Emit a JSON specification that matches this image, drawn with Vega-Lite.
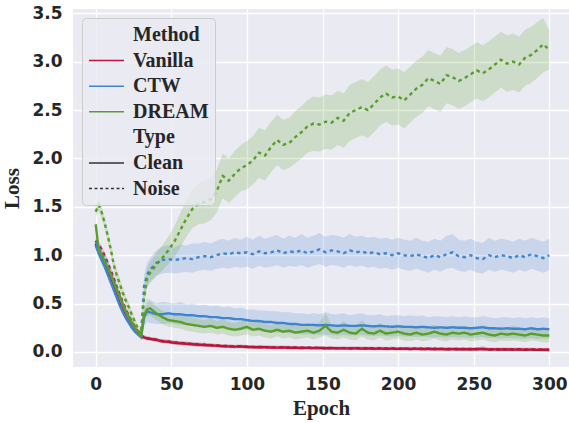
{
"$schema": "https://vega.github.io/schema/vega-lite/v6.json",
"width": 496, "height": 358,
"autosize": {"type": "none"},
"padding": {"left": 73, "top": 9, "right": 0, "bottom": 56},
"background": "white",
"config": {
  "view": {"fill": "#EAEAF2", "stroke": null},
  "axis": {"grid": true, "gridColor": "white", "gridWidth": 1.3, "domain": false, "ticks": false,
    "labelFont": "DejaVu Sans", "labelFontWeight": "bold", "labelFontSize": 17, "labelColor": "#262626",
    "titleFont": "Liberation Serif", "titleFontWeight": "bold", "titleFontSize": 21, "titleColor": "#262626"}
},
"data": {"values": [
{"m":"Vanilla","t":"Clean","e":0,"y":1.12,"lo":1.08,"hi":1.16},
{"m":"Vanilla","t":"Clean","e":2,"y":1.03,"lo":0.99,"hi":1.07},
{"m":"Vanilla","t":"Clean","e":4,"y":0.96,"lo":0.92,"hi":1.0},
{"m":"Vanilla","t":"Clean","e":6,"y":0.9,"lo":0.86,"hi":0.94},
{"m":"Vanilla","t":"Clean","e":8,"y":0.82,"lo":0.78,"hi":0.86},
{"m":"Vanilla","t":"Clean","e":10,"y":0.74,"lo":0.7,"hi":0.78},
{"m":"Vanilla","t":"Clean","e":12,"y":0.66,"lo":0.62,"hi":0.7},
{"m":"Vanilla","t":"Clean","e":14,"y":0.58,"lo":0.54,"hi":0.62},
{"m":"Vanilla","t":"Clean","e":16,"y":0.5,"lo":0.46,"hi":0.54},
{"m":"Vanilla","t":"Clean","e":18,"y":0.43,"lo":0.4,"hi":0.46},
{"m":"Vanilla","t":"Clean","e":20,"y":0.36,"lo":0.33,"hi":0.39},
{"m":"Vanilla","t":"Clean","e":22,"y":0.31,"lo":0.28,"hi":0.34},
{"m":"Vanilla","t":"Clean","e":24,"y":0.26,"lo":0.23,"hi":0.29},
{"m":"Vanilla","t":"Clean","e":26,"y":0.22,"lo":0.2,"hi":0.24},
{"m":"Vanilla","t":"Clean","e":28,"y":0.19,"lo":0.17,"hi":0.21},
{"m":"Vanilla","t":"Clean","e":30,"y":0.16,"lo":0.14,"hi":0.18},
{"m":"Vanilla","t":"Clean","e":32,"y":0.15,"lo":0.13,"hi":0.17},
{"m":"Vanilla","t":"Clean","e":34,"y":0.14,"lo":0.12,"hi":0.16},
{"m":"Vanilla","t":"Clean","e":36,"y":0.135,"lo":0.115,"hi":0.155},
{"m":"Vanilla","t":"Clean","e":40,"y":0.125,"lo":0.105,"hi":0.145},
{"m":"Vanilla","t":"Clean","e":44,"y":0.11,"lo":0.09,"hi":0.13},
{"m":"Vanilla","t":"Clean","e":48,"y":0.105,"lo":0.085,"hi":0.125},
{"m":"Vanilla","t":"Clean","e":52,"y":0.095,"lo":0.075,"hi":0.115},
{"m":"Vanilla","t":"Clean","e":56,"y":0.09,"lo":0.07,"hi":0.11},
{"m":"Vanilla","t":"Clean","e":60,"y":0.085,"lo":0.065,"hi":0.105},
{"m":"Vanilla","t":"Clean","e":64,"y":0.08,"lo":0.06,"hi":0.1},
{"m":"Vanilla","t":"Clean","e":68,"y":0.075,"lo":0.055,"hi":0.095},
{"m":"Vanilla","t":"Clean","e":72,"y":0.072,"lo":0.052,"hi":0.092},
{"m":"Vanilla","t":"Clean","e":76,"y":0.068,"lo":0.05,"hi":0.088},
{"m":"Vanilla","t":"Clean","e":80,"y":0.065,"lo":0.047,"hi":0.083},
{"m":"Vanilla","t":"Clean","e":84,"y":0.06,"lo":0.042,"hi":0.078},
{"m":"Vanilla","t":"Clean","e":88,"y":0.058,"lo":0.04,"hi":0.076},
{"m":"Vanilla","t":"Clean","e":92,"y":0.055,"lo":0.037,"hi":0.073},
{"m":"Vanilla","t":"Clean","e":96,"y":0.057,"lo":0.039,"hi":0.075},
{"m":"Vanilla","t":"Clean","e":100,"y":0.052,"lo":0.034,"hi":0.07},
{"m":"Vanilla","t":"Clean","e":104,"y":0.05,"lo":0.032,"hi":0.068},
{"m":"Vanilla","t":"Clean","e":108,"y":0.048,"lo":0.03,"hi":0.066},
{"m":"Vanilla","t":"Clean","e":112,"y":0.05,"lo":0.032,"hi":0.068},
{"m":"Vanilla","t":"Clean","e":116,"y":0.046,"lo":0.028,"hi":0.064},
{"m":"Vanilla","t":"Clean","e":120,"y":0.045,"lo":0.027,"hi":0.063},
{"m":"Vanilla","t":"Clean","e":124,"y":0.047,"lo":0.029,"hi":0.065},
{"m":"Vanilla","t":"Clean","e":128,"y":0.043,"lo":0.025,"hi":0.061},
{"m":"Vanilla","t":"Clean","e":132,"y":0.044,"lo":0.026,"hi":0.062},
{"m":"Vanilla","t":"Clean","e":136,"y":0.041,"lo":0.023,"hi":0.059},
{"m":"Vanilla","t":"Clean","e":140,"y":0.043,"lo":0.025,"hi":0.061},
{"m":"Vanilla","t":"Clean","e":144,"y":0.04,"lo":0.022,"hi":0.058},
{"m":"Vanilla","t":"Clean","e":148,"y":0.042,"lo":0.024,"hi":0.06},
{"m":"Vanilla","t":"Clean","e":152,"y":0.038,"lo":0.02,"hi":0.056},
{"m":"Vanilla","t":"Clean","e":156,"y":0.04,"lo":0.022,"hi":0.058},
{"m":"Vanilla","t":"Clean","e":160,"y":0.037,"lo":0.019,"hi":0.055},
{"m":"Vanilla","t":"Clean","e":164,"y":0.039,"lo":0.021,"hi":0.057},
{"m":"Vanilla","t":"Clean","e":168,"y":0.036,"lo":0.018,"hi":0.054},
{"m":"Vanilla","t":"Clean","e":172,"y":0.038,"lo":0.02,"hi":0.056},
{"m":"Vanilla","t":"Clean","e":176,"y":0.035,"lo":0.017,"hi":0.053},
{"m":"Vanilla","t":"Clean","e":180,"y":0.037,"lo":0.019,"hi":0.055},
{"m":"Vanilla","t":"Clean","e":184,"y":0.034,"lo":0.016,"hi":0.052},
{"m":"Vanilla","t":"Clean","e":188,"y":0.036,"lo":0.018,"hi":0.054},
{"m":"Vanilla","t":"Clean","e":192,"y":0.033,"lo":0.015,"hi":0.051},
{"m":"Vanilla","t":"Clean","e":196,"y":0.035,"lo":0.017,"hi":0.053},
{"m":"Vanilla","t":"Clean","e":200,"y":0.032,"lo":0.014,"hi":0.05},
{"m":"Vanilla","t":"Clean","e":204,"y":0.034,"lo":0.016,"hi":0.052},
{"m":"Vanilla","t":"Clean","e":208,"y":0.031,"lo":0.013,"hi":0.049},
{"m":"Vanilla","t":"Clean","e":212,"y":0.033,"lo":0.015,"hi":0.051},
{"m":"Vanilla","t":"Clean","e":216,"y":0.03,"lo":0.012,"hi":0.048},
{"m":"Vanilla","t":"Clean","e":220,"y":0.032,"lo":0.014,"hi":0.05},
{"m":"Vanilla","t":"Clean","e":224,"y":0.029,"lo":0.011,"hi":0.047},
{"m":"Vanilla","t":"Clean","e":228,"y":0.031,"lo":0.013,"hi":0.049},
{"m":"Vanilla","t":"Clean","e":232,"y":0.028,"lo":0.01,"hi":0.046},
{"m":"Vanilla","t":"Clean","e":236,"y":0.03,"lo":0.012,"hi":0.048},
{"m":"Vanilla","t":"Clean","e":240,"y":0.028,"lo":0.01,"hi":0.046},
{"m":"Vanilla","t":"Clean","e":244,"y":0.029,"lo":0.011,"hi":0.047},
{"m":"Vanilla","t":"Clean","e":248,"y":0.027,"lo":0.009,"hi":0.045},
{"m":"Vanilla","t":"Clean","e":252,"y":0.029,"lo":0.011,"hi":0.047},
{"m":"Vanilla","t":"Clean","e":256,"y":0.032,"lo":0.012,"hi":0.062},
{"m":"Vanilla","t":"Clean","e":260,"y":0.026,"lo":0.008,"hi":0.044},
{"m":"Vanilla","t":"Clean","e":264,"y":0.027,"lo":0.009,"hi":0.045},
{"m":"Vanilla","t":"Clean","e":268,"y":0.025,"lo":0.007,"hi":0.043},
{"m":"Vanilla","t":"Clean","e":272,"y":0.026,"lo":0.008,"hi":0.044},
{"m":"Vanilla","t":"Clean","e":276,"y":0.024,"lo":0.006,"hi":0.042},
{"m":"Vanilla","t":"Clean","e":280,"y":0.026,"lo":0.008,"hi":0.044},
{"m":"Vanilla","t":"Clean","e":284,"y":0.023,"lo":0.005,"hi":0.041},
{"m":"Vanilla","t":"Clean","e":288,"y":0.025,"lo":0.007,"hi":0.043},
{"m":"Vanilla","t":"Clean","e":292,"y":0.022,"lo":0.004,"hi":0.04},
{"m":"Vanilla","t":"Clean","e":296,"y":0.023,"lo":0.005,"hi":0.041},
{"m":"Vanilla","t":"Clean","e":300,"y":0.021,"lo":0.003,"hi":0.039},
{"m":"Vanilla","t":"Noise","e":0,"y":1.15,"lo":1.11,"hi":1.19},
{"m":"Vanilla","t":"Noise","e":2,"y":1.1,"lo":1.06,"hi":1.14},
{"m":"Vanilla","t":"Noise","e":4,"y":1.06,"lo":1.02,"hi":1.1},
{"m":"Vanilla","t":"Noise","e":6,"y":0.99,"lo":0.95,"hi":1.03},
{"m":"Vanilla","t":"Noise","e":8,"y":0.92,"lo":0.88,"hi":0.96},
{"m":"Vanilla","t":"Noise","e":10,"y":0.84,"lo":0.8,"hi":0.88},
{"m":"Vanilla","t":"Noise","e":12,"y":0.76,"lo":0.72,"hi":0.8},
{"m":"Vanilla","t":"Noise","e":14,"y":0.67,"lo":0.63,"hi":0.71},
{"m":"Vanilla","t":"Noise","e":16,"y":0.59,"lo":0.55,"hi":0.63},
{"m":"Vanilla","t":"Noise","e":18,"y":0.51,"lo":0.48,"hi":0.54},
{"m":"Vanilla","t":"Noise","e":20,"y":0.44,"lo":0.41,"hi":0.47},
{"m":"Vanilla","t":"Noise","e":22,"y":0.37,"lo":0.34,"hi":0.4},
{"m":"Vanilla","t":"Noise","e":24,"y":0.31,"lo":0.28,"hi":0.34},
{"m":"Vanilla","t":"Noise","e":26,"y":0.26,"lo":0.24,"hi":0.28},
{"m":"Vanilla","t":"Noise","e":28,"y":0.21,"lo":0.19,"hi":0.23},
{"m":"Vanilla","t":"Noise","e":30,"y":0.17,"lo":0.15,"hi":0.19},
{"m":"Vanilla","t":"Noise","e":32,"y":0.153,"lo":0.133,"hi":0.173},
{"m":"Vanilla","t":"Noise","e":34,"y":0.143,"lo":0.123,"hi":0.163},
{"m":"Vanilla","t":"Noise","e":36,"y":0.138,"lo":0.118,"hi":0.158},
{"m":"Vanilla","t":"Noise","e":40,"y":0.128,"lo":0.108,"hi":0.148},
{"m":"Vanilla","t":"Noise","e":44,"y":0.113,"lo":0.093,"hi":0.133},
{"m":"Vanilla","t":"Noise","e":48,"y":0.108,"lo":0.088,"hi":0.128},
{"m":"Vanilla","t":"Noise","e":52,"y":0.098,"lo":0.078,"hi":0.118},
{"m":"Vanilla","t":"Noise","e":56,"y":0.093,"lo":0.073,"hi":0.113},
{"m":"Vanilla","t":"Noise","e":60,"y":0.088,"lo":0.068,"hi":0.108},
{"m":"Vanilla","t":"Noise","e":64,"y":0.083,"lo":0.063,"hi":0.103},
{"m":"Vanilla","t":"Noise","e":68,"y":0.078,"lo":0.058,"hi":0.098},
{"m":"Vanilla","t":"Noise","e":72,"y":0.075,"lo":0.055,"hi":0.095},
{"m":"Vanilla","t":"Noise","e":76,"y":0.071,"lo":0.053,"hi":0.091},
{"m":"Vanilla","t":"Noise","e":80,"y":0.068,"lo":0.05,"hi":0.086},
{"m":"Vanilla","t":"Noise","e":84,"y":0.063,"lo":0.045,"hi":0.081},
{"m":"Vanilla","t":"Noise","e":88,"y":0.061,"lo":0.043,"hi":0.079},
{"m":"Vanilla","t":"Noise","e":92,"y":0.058,"lo":0.04,"hi":0.076},
{"m":"Vanilla","t":"Noise","e":96,"y":0.06,"lo":0.042,"hi":0.078},
{"m":"Vanilla","t":"Noise","e":100,"y":0.055,"lo":0.037,"hi":0.073},
{"m":"Vanilla","t":"Noise","e":110,"y":0.051,"lo":0.033,"hi":0.069},
{"m":"Vanilla","t":"Noise","e":120,"y":0.048,"lo":0.03,"hi":0.066},
{"m":"Vanilla","t":"Noise","e":130,"y":0.046,"lo":0.028,"hi":0.064},
{"m":"Vanilla","t":"Noise","e":140,"y":0.045,"lo":0.027,"hi":0.063},
{"m":"Vanilla","t":"Noise","e":150,"y":0.042,"lo":0.024,"hi":0.06},
{"m":"Vanilla","t":"Noise","e":160,"y":0.04,"lo":0.022,"hi":0.058},
{"m":"Vanilla","t":"Noise","e":170,"y":0.04,"lo":0.022,"hi":0.058},
{"m":"Vanilla","t":"Noise","e":180,"y":0.039,"lo":0.021,"hi":0.057},
{"m":"Vanilla","t":"Noise","e":190,"y":0.037,"lo":0.019,"hi":0.055},
{"m":"Vanilla","t":"Noise","e":200,"y":0.035,"lo":0.017,"hi":0.053},
{"m":"Vanilla","t":"Noise","e":210,"y":0.035,"lo":0.017,"hi":0.053},
{"m":"Vanilla","t":"Noise","e":220,"y":0.034,"lo":0.016,"hi":0.052},
{"m":"Vanilla","t":"Noise","e":230,"y":0.032,"lo":0.014,"hi":0.05},
{"m":"Vanilla","t":"Noise","e":240,"y":0.031,"lo":0.013,"hi":0.049},
{"m":"Vanilla","t":"Noise","e":250,"y":0.031,"lo":0.013,"hi":0.049},
{"m":"Vanilla","t":"Noise","e":260,"y":0.029,"lo":0.011,"hi":0.047},
{"m":"Vanilla","t":"Noise","e":270,"y":0.028,"lo":0.01,"hi":0.046},
{"m":"Vanilla","t":"Noise","e":280,"y":0.028,"lo":0.01,"hi":0.046},
{"m":"Vanilla","t":"Noise","e":290,"y":0.026,"lo":0.008,"hi":0.044},
{"m":"Vanilla","t":"Noise","e":300,"y":0.024,"lo":0.006,"hi":0.042},
{"m":"CTW","t":"Clean","e":0,"y":1.1,"lo":1.06,"hi":1.14},
{"m":"CTW","t":"Clean","e":2,"y":1.02,"lo":0.98,"hi":1.06},
{"m":"CTW","t":"Clean","e":4,"y":0.95,"lo":0.91,"hi":0.99},
{"m":"CTW","t":"Clean","e":6,"y":0.88,"lo":0.84,"hi":0.92},
{"m":"CTW","t":"Clean","e":8,"y":0.8,"lo":0.76,"hi":0.84},
{"m":"CTW","t":"Clean","e":10,"y":0.72,"lo":0.68,"hi":0.76},
{"m":"CTW","t":"Clean","e":12,"y":0.64,"lo":0.6,"hi":0.68},
{"m":"CTW","t":"Clean","e":14,"y":0.56,"lo":0.52,"hi":0.6},
{"m":"CTW","t":"Clean","e":16,"y":0.48,"lo":0.44,"hi":0.52},
{"m":"CTW","t":"Clean","e":18,"y":0.41,"lo":0.38,"hi":0.44},
{"m":"CTW","t":"Clean","e":20,"y":0.35,"lo":0.32,"hi":0.38},
{"m":"CTW","t":"Clean","e":22,"y":0.3,"lo":0.27,"hi":0.33},
{"m":"CTW","t":"Clean","e":24,"y":0.25,"lo":0.22,"hi":0.28},
{"m":"CTW","t":"Clean","e":26,"y":0.21,"lo":0.19,"hi":0.23},
{"m":"CTW","t":"Clean","e":28,"y":0.18,"lo":0.16,"hi":0.2},
{"m":"CTW","t":"Clean","e":30,"y":0.155,"lo":0.135,"hi":0.175},
{"m":"CTW","t":"Clean","e":32,"y":0.36,"lo":0.26,"hi":0.48},
{"m":"CTW","t":"Clean","e":34,"y":0.42,"lo":0.31,"hi":0.55},
{"m":"CTW","t":"Clean","e":36,"y":0.41,"lo":0.3,"hi":0.54},
{"m":"CTW","t":"Clean","e":40,"y":0.39,"lo":0.29,"hi":0.5},
{"m":"CTW","t":"Clean","e":44,"y":0.39,"lo":0.29,"hi":0.52},
{"m":"CTW","t":"Clean","e":48,"y":0.4,"lo":0.3,"hi":0.51},
{"m":"CTW","t":"Clean","e":52,"y":0.39,"lo":0.29,"hi":0.5},
{"m":"CTW","t":"Clean","e":56,"y":0.39,"lo":0.28,"hi":0.52},
{"m":"CTW","t":"Clean","e":60,"y":0.38,"lo":0.28,"hi":0.49},
{"m":"CTW","t":"Clean","e":64,"y":0.38,"lo":0.28,"hi":0.5},
{"m":"CTW","t":"Clean","e":68,"y":0.37,"lo":0.27,"hi":0.48},
{"m":"CTW","t":"Clean","e":72,"y":0.37,"lo":0.27,"hi":0.49},
{"m":"CTW","t":"Clean","e":76,"y":0.36,"lo":0.26,"hi":0.47},
{"m":"CTW","t":"Clean","e":80,"y":0.36,"lo":0.26,"hi":0.48},
{"m":"CTW","t":"Clean","e":84,"y":0.35,"lo":0.25,"hi":0.46},
{"m":"CTW","t":"Clean","e":88,"y":0.35,"lo":0.25,"hi":0.47},
{"m":"CTW","t":"Clean","e":92,"y":0.34,"lo":0.24,"hi":0.45},
{"m":"CTW","t":"Clean","e":96,"y":0.34,"lo":0.24,"hi":0.46},
{"m":"CTW","t":"Clean","e":100,"y":0.33,"lo":0.23,"hi":0.44},
{"m":"CTW","t":"Clean","e":104,"y":0.32,"lo":0.22,"hi":0.44},
{"m":"CTW","t":"Clean","e":108,"y":0.32,"lo":0.22,"hi":0.43},
{"m":"CTW","t":"Clean","e":112,"y":0.31,"lo":0.21,"hi":0.43},
{"m":"CTW","t":"Clean","e":116,"y":0.31,"lo":0.21,"hi":0.42},
{"m":"CTW","t":"Clean","e":120,"y":0.3,"lo":0.2,"hi":0.42},
{"m":"CTW","t":"Clean","e":124,"y":0.3,"lo":0.2,"hi":0.41},
{"m":"CTW","t":"Clean","e":128,"y":0.29,"lo":0.19,"hi":0.41},
{"m":"CTW","t":"Clean","e":132,"y":0.29,"lo":0.19,"hi":0.4},
{"m":"CTW","t":"Clean","e":136,"y":0.28,"lo":0.18,"hi":0.4},
{"m":"CTW","t":"Clean","e":140,"y":0.28,"lo":0.18,"hi":0.39},
{"m":"CTW","t":"Clean","e":144,"y":0.28,"lo":0.18,"hi":0.4},
{"m":"CTW","t":"Clean","e":148,"y":0.275,"lo":0.175,"hi":0.39},
{"m":"CTW","t":"Clean","e":152,"y":0.28,"lo":0.18,"hi":0.41},
{"m":"CTW","t":"Clean","e":156,"y":0.275,"lo":0.175,"hi":0.39},
{"m":"CTW","t":"Clean","e":160,"y":0.27,"lo":0.17,"hi":0.39},
{"m":"CTW","t":"Clean","e":164,"y":0.275,"lo":0.175,"hi":0.4},
{"m":"CTW","t":"Clean","e":168,"y":0.27,"lo":0.17,"hi":0.38},
{"m":"CTW","t":"Clean","e":172,"y":0.27,"lo":0.17,"hi":0.39},
{"m":"CTW","t":"Clean","e":176,"y":0.275,"lo":0.175,"hi":0.4},
{"m":"CTW","t":"Clean","e":180,"y":0.27,"lo":0.17,"hi":0.38},
{"m":"CTW","t":"Clean","e":184,"y":0.265,"lo":0.165,"hi":0.38},
{"m":"CTW","t":"Clean","e":188,"y":0.27,"lo":0.17,"hi":0.39},
{"m":"CTW","t":"Clean","e":192,"y":0.265,"lo":0.165,"hi":0.37},
{"m":"CTW","t":"Clean","e":196,"y":0.26,"lo":0.16,"hi":0.38},
{"m":"CTW","t":"Clean","e":200,"y":0.265,"lo":0.165,"hi":0.38},
{"m":"CTW","t":"Clean","e":204,"y":0.26,"lo":0.16,"hi":0.37},
{"m":"CTW","t":"Clean","e":208,"y":0.26,"lo":0.16,"hi":0.38},
{"m":"CTW","t":"Clean","e":212,"y":0.255,"lo":0.155,"hi":0.37},
{"m":"CTW","t":"Clean","e":216,"y":0.26,"lo":0.16,"hi":0.38},
{"m":"CTW","t":"Clean","e":220,"y":0.255,"lo":0.155,"hi":0.36},
{"m":"CTW","t":"Clean","e":224,"y":0.25,"lo":0.15,"hi":0.37},
{"m":"CTW","t":"Clean","e":228,"y":0.255,"lo":0.155,"hi":0.37},
{"m":"CTW","t":"Clean","e":232,"y":0.25,"lo":0.15,"hi":0.36},
{"m":"CTW","t":"Clean","e":236,"y":0.255,"lo":0.155,"hi":0.37},
{"m":"CTW","t":"Clean","e":240,"y":0.25,"lo":0.15,"hi":0.36},
{"m":"CTW","t":"Clean","e":244,"y":0.25,"lo":0.15,"hi":0.37},
{"m":"CTW","t":"Clean","e":248,"y":0.245,"lo":0.145,"hi":0.36},
{"m":"CTW","t":"Clean","e":252,"y":0.25,"lo":0.15,"hi":0.36},
{"m":"CTW","t":"Clean","e":256,"y":0.255,"lo":0.155,"hi":0.37},
{"m":"CTW","t":"Clean","e":260,"y":0.245,"lo":0.145,"hi":0.36},
{"m":"CTW","t":"Clean","e":264,"y":0.245,"lo":0.145,"hi":0.35},
{"m":"CTW","t":"Clean","e":268,"y":0.24,"lo":0.14,"hi":0.36},
{"m":"CTW","t":"Clean","e":272,"y":0.245,"lo":0.145,"hi":0.36},
{"m":"CTW","t":"Clean","e":276,"y":0.24,"lo":0.14,"hi":0.35},
{"m":"CTW","t":"Clean","e":280,"y":0.24,"lo":0.14,"hi":0.36},
{"m":"CTW","t":"Clean","e":284,"y":0.235,"lo":0.135,"hi":0.35},
{"m":"CTW","t":"Clean","e":288,"y":0.245,"lo":0.145,"hi":0.36},
{"m":"CTW","t":"Clean","e":292,"y":0.235,"lo":0.135,"hi":0.35},
{"m":"CTW","t":"Clean","e":296,"y":0.24,"lo":0.14,"hi":0.36},
{"m":"CTW","t":"Clean","e":300,"y":0.235,"lo":0.135,"hi":0.35},
{"m":"CTW","t":"Noise","e":0,"y":1.14,"lo":1.1,"hi":1.18},
{"m":"CTW","t":"Noise","e":2,"y":1.08,"lo":1.04,"hi":1.12},
{"m":"CTW","t":"Noise","e":4,"y":1.02,"lo":0.98,"hi":1.06},
{"m":"CTW","t":"Noise","e":6,"y":0.96,"lo":0.92,"hi":1.0},
{"m":"CTW","t":"Noise","e":8,"y":0.89,"lo":0.85,"hi":0.93},
{"m":"CTW","t":"Noise","e":10,"y":0.81,"lo":0.77,"hi":0.85},
{"m":"CTW","t":"Noise","e":12,"y":0.73,"lo":0.69,"hi":0.77},
{"m":"CTW","t":"Noise","e":14,"y":0.65,"lo":0.61,"hi":0.69},
{"m":"CTW","t":"Noise","e":16,"y":0.57,"lo":0.53,"hi":0.61},
{"m":"CTW","t":"Noise","e":18,"y":0.49,"lo":0.46,"hi":0.52},
{"m":"CTW","t":"Noise","e":20,"y":0.42,"lo":0.39,"hi":0.45},
{"m":"CTW","t":"Noise","e":22,"y":0.36,"lo":0.33,"hi":0.39},
{"m":"CTW","t":"Noise","e":24,"y":0.3,"lo":0.27,"hi":0.33},
{"m":"CTW","t":"Noise","e":26,"y":0.25,"lo":0.23,"hi":0.27},
{"m":"CTW","t":"Noise","e":28,"y":0.2,"lo":0.18,"hi":0.22},
{"m":"CTW","t":"Noise","e":30,"y":0.16,"lo":0.14,"hi":0.18},
{"m":"CTW","t":"Noise","e":32,"y":0.68,"lo":0.56,"hi":0.8},
{"m":"CTW","t":"Noise","e":34,"y":0.8,"lo":0.68,"hi":0.92},
{"m":"CTW","t":"Noise","e":36,"y":0.85,"lo":0.73,"hi":0.97},
{"m":"CTW","t":"Noise","e":40,"y":0.92,"lo":0.79,"hi":1.05},
{"m":"CTW","t":"Noise","e":44,"y":0.95,"lo":0.81,"hi":1.09},
{"m":"CTW","t":"Noise","e":48,"y":0.96,"lo":0.82,"hi":1.1},
{"m":"CTW","t":"Noise","e":52,"y":0.95,"lo":0.81,"hi":1.08},
{"m":"CTW","t":"Noise","e":56,"y":0.96,"lo":0.82,"hi":1.11},
{"m":"CTW","t":"Noise","e":60,"y":0.97,"lo":0.83,"hi":1.1},
{"m":"CTW","t":"Noise","e":64,"y":0.96,"lo":0.82,"hi":1.12},
{"m":"CTW","t":"Noise","e":68,"y":0.98,"lo":0.84,"hi":1.12},
{"m":"CTW","t":"Noise","e":72,"y":0.99,"lo":0.85,"hi":1.14},
{"m":"CTW","t":"Noise","e":76,"y":0.98,"lo":0.84,"hi":1.12},
{"m":"CTW","t":"Noise","e":80,"y":1.0,"lo":0.86,"hi":1.15},
{"m":"CTW","t":"Noise","e":84,"y":1.02,"lo":0.87,"hi":1.17},
{"m":"CTW","t":"Noise","e":88,"y":1.01,"lo":0.86,"hi":1.15},
{"m":"CTW","t":"Noise","e":92,"y":1.03,"lo":0.88,"hi":1.18},
{"m":"CTW","t":"Noise","e":96,"y":1.02,"lo":0.87,"hi":1.16},
{"m":"CTW","t":"Noise","e":100,"y":1.03,"lo":0.88,"hi":1.19},
{"m":"CTW","t":"Noise","e":104,"y":1.01,"lo":0.86,"hi":1.16},
{"m":"CTW","t":"Noise","e":108,"y":1.04,"lo":0.89,"hi":1.2},
{"m":"CTW","t":"Noise","e":112,"y":1.02,"lo":0.87,"hi":1.17},
{"m":"CTW","t":"Noise","e":116,"y":1.03,"lo":0.88,"hi":1.19},
{"m":"CTW","t":"Noise","e":120,"y":1.05,"lo":0.9,"hi":1.21},
{"m":"CTW","t":"Noise","e":124,"y":1.02,"lo":0.87,"hi":1.17},
{"m":"CTW","t":"Noise","e":128,"y":1.04,"lo":0.89,"hi":1.2},
{"m":"CTW","t":"Noise","e":132,"y":1.03,"lo":0.88,"hi":1.18},
{"m":"CTW","t":"Noise","e":136,"y":1.05,"lo":0.9,"hi":1.22},
{"m":"CTW","t":"Noise","e":140,"y":1.02,"lo":0.87,"hi":1.18},
{"m":"CTW","t":"Noise","e":144,"y":1.04,"lo":0.89,"hi":1.2},
{"m":"CTW","t":"Noise","e":148,"y":1.06,"lo":0.91,"hi":1.23},
{"m":"CTW","t":"Noise","e":152,"y":1.03,"lo":0.88,"hi":1.19},
{"m":"CTW","t":"Noise","e":156,"y":1.05,"lo":0.9,"hi":1.21},
{"m":"CTW","t":"Noise","e":160,"y":1.04,"lo":0.89,"hi":1.2},
{"m":"CTW","t":"Noise","e":164,"y":1.02,"lo":0.87,"hi":1.18},
{"m":"CTW","t":"Noise","e":168,"y":1.05,"lo":0.9,"hi":1.22},
{"m":"CTW","t":"Noise","e":172,"y":1.03,"lo":0.88,"hi":1.19},
{"m":"CTW","t":"Noise","e":176,"y":1.04,"lo":0.89,"hi":1.2},
{"m":"CTW","t":"Noise","e":180,"y":1.02,"lo":0.87,"hi":1.18},
{"m":"CTW","t":"Noise","e":184,"y":1.03,"lo":0.88,"hi":1.19},
{"m":"CTW","t":"Noise","e":188,"y":1.01,"lo":0.86,"hi":1.17},
{"m":"CTW","t":"Noise","e":192,"y":1.02,"lo":0.87,"hi":1.18},
{"m":"CTW","t":"Noise","e":196,"y":1.0,"lo":0.85,"hi":1.16},
{"m":"CTW","t":"Noise","e":200,"y":1.02,"lo":0.87,"hi":1.18},
{"m":"CTW","t":"Noise","e":204,"y":1.0,"lo":0.85,"hi":1.16},
{"m":"CTW","t":"Noise","e":208,"y":0.99,"lo":0.84,"hi":1.15},
{"m":"CTW","t":"Noise","e":212,"y":1.01,"lo":0.86,"hi":1.18},
{"m":"CTW","t":"Noise","e":216,"y":0.99,"lo":0.84,"hi":1.15},
{"m":"CTW","t":"Noise","e":220,"y":0.97,"lo":0.82,"hi":1.14},
{"m":"CTW","t":"Noise","e":224,"y":1.0,"lo":0.85,"hi":1.17},
{"m":"CTW","t":"Noise","e":228,"y":0.98,"lo":0.83,"hi":1.15},
{"m":"CTW","t":"Noise","e":232,"y":1.01,"lo":0.86,"hi":1.2},
{"m":"CTW","t":"Noise","e":236,"y":1.03,"lo":0.87,"hi":1.22},
{"m":"CTW","t":"Noise","e":240,"y":0.99,"lo":0.84,"hi":1.16},
{"m":"CTW","t":"Noise","e":244,"y":0.98,"lo":0.83,"hi":1.15},
{"m":"CTW","t":"Noise","e":248,"y":1.0,"lo":0.85,"hi":1.17},
{"m":"CTW","t":"Noise","e":252,"y":0.97,"lo":0.82,"hi":1.14},
{"m":"CTW","t":"Noise","e":256,"y":0.96,"lo":0.81,"hi":1.13},
{"m":"CTW","t":"Noise","e":260,"y":1.0,"lo":0.85,"hi":1.18},
{"m":"CTW","t":"Noise","e":264,"y":0.98,"lo":0.83,"hi":1.15},
{"m":"CTW","t":"Noise","e":268,"y":1.0,"lo":0.85,"hi":1.17},
{"m":"CTW","t":"Noise","e":272,"y":0.99,"lo":0.84,"hi":1.16},
{"m":"CTW","t":"Noise","e":276,"y":0.97,"lo":0.82,"hi":1.14},
{"m":"CTW","t":"Noise","e":280,"y":1.0,"lo":0.85,"hi":1.17},
{"m":"CTW","t":"Noise","e":284,"y":0.98,"lo":0.83,"hi":1.15},
{"m":"CTW","t":"Noise","e":288,"y":1.01,"lo":0.86,"hi":1.18},
{"m":"CTW","t":"Noise","e":292,"y":0.99,"lo":0.84,"hi":1.16},
{"m":"CTW","t":"Noise","e":296,"y":0.97,"lo":0.82,"hi":1.14},
{"m":"CTW","t":"Noise","e":300,"y":1.0,"lo":0.85,"hi":1.17},
{"m":"DREAM","t":"Clean","e":0,"y":1.32,"lo":1.26,"hi":1.38},
{"m":"DREAM","t":"Clean","e":2,"y":1.06,"lo":1.01,"hi":1.11},
{"m":"DREAM","t":"Clean","e":4,"y":1.0,"lo":0.96,"hi":1.04},
{"m":"DREAM","t":"Clean","e":6,"y":0.93,"lo":0.89,"hi":0.97},
{"m":"DREAM","t":"Clean","e":8,"y":0.87,"lo":0.83,"hi":0.91},
{"m":"DREAM","t":"Clean","e":10,"y":0.8,"lo":0.76,"hi":0.84},
{"m":"DREAM","t":"Clean","e":12,"y":0.72,"lo":0.68,"hi":0.76},
{"m":"DREAM","t":"Clean","e":14,"y":0.64,"lo":0.6,"hi":0.68},
{"m":"DREAM","t":"Clean","e":16,"y":0.57,"lo":0.53,"hi":0.61},
{"m":"DREAM","t":"Clean","e":18,"y":0.49,"lo":0.45,"hi":0.53},
{"m":"DREAM","t":"Clean","e":20,"y":0.42,"lo":0.39,"hi":0.45},
{"m":"DREAM","t":"Clean","e":22,"y":0.36,"lo":0.33,"hi":0.39},
{"m":"DREAM","t":"Clean","e":24,"y":0.3,"lo":0.27,"hi":0.33},
{"m":"DREAM","t":"Clean","e":26,"y":0.25,"lo":0.22,"hi":0.28},
{"m":"DREAM","t":"Clean","e":28,"y":0.2,"lo":0.18,"hi":0.22},
{"m":"DREAM","t":"Clean","e":30,"y":0.16,"lo":0.14,"hi":0.18},
{"m":"DREAM","t":"Clean","e":32,"y":0.38,"lo":0.32,"hi":0.44},
{"m":"DREAM","t":"Clean","e":34,"y":0.44,"lo":0.37,"hi":0.51},
{"m":"DREAM","t":"Clean","e":36,"y":0.45,"lo":0.38,"hi":0.52},
{"m":"DREAM","t":"Clean","e":40,"y":0.4,"lo":0.33,"hi":0.47},
{"m":"DREAM","t":"Clean","e":44,"y":0.36,"lo":0.29,"hi":0.43},
{"m":"DREAM","t":"Clean","e":48,"y":0.33,"lo":0.26,"hi":0.4},
{"m":"DREAM","t":"Clean","e":52,"y":0.32,"lo":0.25,"hi":0.39},
{"m":"DREAM","t":"Clean","e":56,"y":0.31,"lo":0.24,"hi":0.38},
{"m":"DREAM","t":"Clean","e":60,"y":0.29,"lo":0.22,"hi":0.36},
{"m":"DREAM","t":"Clean","e":64,"y":0.28,"lo":0.21,"hi":0.36},
{"m":"DREAM","t":"Clean","e":68,"y":0.27,"lo":0.2,"hi":0.34},
{"m":"DREAM","t":"Clean","e":72,"y":0.26,"lo":0.19,"hi":0.33},
{"m":"DREAM","t":"Clean","e":76,"y":0.27,"lo":0.2,"hi":0.35},
{"m":"DREAM","t":"Clean","e":80,"y":0.25,"lo":0.18,"hi":0.32},
{"m":"DREAM","t":"Clean","e":84,"y":0.26,"lo":0.19,"hi":0.34},
{"m":"DREAM","t":"Clean","e":88,"y":0.24,"lo":0.17,"hi":0.31},
{"m":"DREAM","t":"Clean","e":92,"y":0.23,"lo":0.16,"hi":0.3},
{"m":"DREAM","t":"Clean","e":96,"y":0.24,"lo":0.17,"hi":0.32},
{"m":"DREAM","t":"Clean","e":100,"y":0.26,"lo":0.18,"hi":0.34},
{"m":"DREAM","t":"Clean","e":104,"y":0.23,"lo":0.16,"hi":0.3},
{"m":"DREAM","t":"Clean","e":108,"y":0.24,"lo":0.17,"hi":0.32},
{"m":"DREAM","t":"Clean","e":112,"y":0.22,"lo":0.15,"hi":0.29},
{"m":"DREAM","t":"Clean","e":116,"y":0.21,"lo":0.14,"hi":0.28},
{"m":"DREAM","t":"Clean","e":120,"y":0.23,"lo":0.16,"hi":0.3},
{"m":"DREAM","t":"Clean","e":124,"y":0.21,"lo":0.14,"hi":0.28},
{"m":"DREAM","t":"Clean","e":128,"y":0.22,"lo":0.15,"hi":0.3},
{"m":"DREAM","t":"Clean","e":132,"y":0.2,"lo":0.13,"hi":0.27},
{"m":"DREAM","t":"Clean","e":136,"y":0.21,"lo":0.14,"hi":0.28},
{"m":"DREAM","t":"Clean","e":140,"y":0.22,"lo":0.15,"hi":0.3},
{"m":"DREAM","t":"Clean","e":144,"y":0.2,"lo":0.13,"hi":0.27},
{"m":"DREAM","t":"Clean","e":148,"y":0.22,"lo":0.15,"hi":0.31},
{"m":"DREAM","t":"Clean","e":152,"y":0.27,"lo":0.17,"hi":0.4},
{"m":"DREAM","t":"Clean","e":156,"y":0.21,"lo":0.14,"hi":0.28},
{"m":"DREAM","t":"Clean","e":160,"y":0.2,"lo":0.13,"hi":0.27},
{"m":"DREAM","t":"Clean","e":164,"y":0.23,"lo":0.15,"hi":0.32},
{"m":"DREAM","t":"Clean","e":168,"y":0.2,"lo":0.13,"hi":0.27},
{"m":"DREAM","t":"Clean","e":172,"y":0.19,"lo":0.12,"hi":0.26},
{"m":"DREAM","t":"Clean","e":176,"y":0.24,"lo":0.16,"hi":0.33},
{"m":"DREAM","t":"Clean","e":180,"y":0.2,"lo":0.13,"hi":0.27},
{"m":"DREAM","t":"Clean","e":184,"y":0.19,"lo":0.12,"hi":0.26},
{"m":"DREAM","t":"Clean","e":188,"y":0.22,"lo":0.15,"hi":0.3},
{"m":"DREAM","t":"Clean","e":192,"y":0.19,"lo":0.12,"hi":0.26},
{"m":"DREAM","t":"Clean","e":196,"y":0.2,"lo":0.13,"hi":0.27},
{"m":"DREAM","t":"Clean","e":200,"y":0.21,"lo":0.14,"hi":0.29},
{"m":"DREAM","t":"Clean","e":204,"y":0.19,"lo":0.12,"hi":0.26},
{"m":"DREAM","t":"Clean","e":208,"y":0.18,"lo":0.11,"hi":0.25},
{"m":"DREAM","t":"Clean","e":212,"y":0.2,"lo":0.13,"hi":0.27},
{"m":"DREAM","t":"Clean","e":216,"y":0.18,"lo":0.11,"hi":0.25},
{"m":"DREAM","t":"Clean","e":220,"y":0.19,"lo":0.12,"hi":0.26},
{"m":"DREAM","t":"Clean","e":224,"y":0.21,"lo":0.14,"hi":0.28},
{"m":"DREAM","t":"Clean","e":228,"y":0.19,"lo":0.12,"hi":0.26},
{"m":"DREAM","t":"Clean","e":232,"y":0.18,"lo":0.11,"hi":0.25},
{"m":"DREAM","t":"Clean","e":236,"y":0.2,"lo":0.13,"hi":0.27},
{"m":"DREAM","t":"Clean","e":240,"y":0.19,"lo":0.12,"hi":0.26},
{"m":"DREAM","t":"Clean","e":244,"y":0.2,"lo":0.13,"hi":0.27},
{"m":"DREAM","t":"Clean","e":248,"y":0.18,"lo":0.11,"hi":0.25},
{"m":"DREAM","t":"Clean","e":252,"y":0.19,"lo":0.12,"hi":0.26},
{"m":"DREAM","t":"Clean","e":256,"y":0.2,"lo":0.13,"hi":0.28},
{"m":"DREAM","t":"Clean","e":260,"y":0.18,"lo":0.11,"hi":0.25},
{"m":"DREAM","t":"Clean","e":264,"y":0.17,"lo":0.1,"hi":0.24},
{"m":"DREAM","t":"Clean","e":268,"y":0.19,"lo":0.12,"hi":0.26},
{"m":"DREAM","t":"Clean","e":272,"y":0.18,"lo":0.11,"hi":0.25},
{"m":"DREAM","t":"Clean","e":276,"y":0.19,"lo":0.12,"hi":0.27},
{"m":"DREAM","t":"Clean","e":280,"y":0.18,"lo":0.11,"hi":0.25},
{"m":"DREAM","t":"Clean","e":284,"y":0.17,"lo":0.1,"hi":0.24},
{"m":"DREAM","t":"Clean","e":288,"y":0.19,"lo":0.12,"hi":0.26},
{"m":"DREAM","t":"Clean","e":292,"y":0.18,"lo":0.11,"hi":0.25},
{"m":"DREAM","t":"Clean","e":296,"y":0.17,"lo":0.1,"hi":0.24},
{"m":"DREAM","t":"Clean","e":300,"y":0.17,"lo":0.1,"hi":0.24},
{"m":"DREAM","t":"Noise","e":0,"y":1.45,"lo":1.39,"hi":1.51},
{"m":"DREAM","t":"Noise","e":2,"y":1.52,"lo":1.46,"hi":1.58},
{"m":"DREAM","t":"Noise","e":4,"y":1.44,"lo":1.38,"hi":1.5},
{"m":"DREAM","t":"Noise","e":6,"y":1.33,"lo":1.27,"hi":1.39},
{"m":"DREAM","t":"Noise","e":8,"y":1.2,"lo":1.14,"hi":1.26},
{"m":"DREAM","t":"Noise","e":10,"y":1.06,"lo":1.0,"hi":1.12},
{"m":"DREAM","t":"Noise","e":12,"y":0.9,"lo":0.84,"hi":0.96},
{"m":"DREAM","t":"Noise","e":14,"y":0.79,"lo":0.73,"hi":0.85},
{"m":"DREAM","t":"Noise","e":16,"y":0.7,"lo":0.64,"hi":0.76},
{"m":"DREAM","t":"Noise","e":18,"y":0.61,"lo":0.56,"hi":0.66},
{"m":"DREAM","t":"Noise","e":20,"y":0.53,"lo":0.48,"hi":0.58},
{"m":"DREAM","t":"Noise","e":22,"y":0.46,"lo":0.41,"hi":0.51},
{"m":"DREAM","t":"Noise","e":24,"y":0.38,"lo":0.34,"hi":0.42},
{"m":"DREAM","t":"Noise","e":26,"y":0.31,"lo":0.27,"hi":0.35},
{"m":"DREAM","t":"Noise","e":28,"y":0.24,"lo":0.21,"hi":0.27},
{"m":"DREAM","t":"Noise","e":30,"y":0.19,"lo":0.16,"hi":0.22},
{"m":"DREAM","t":"Noise","e":32,"y":0.56,"lo":0.47,"hi":0.65},
{"m":"DREAM","t":"Noise","e":34,"y":0.76,"lo":0.66,"hi":0.86},
{"m":"DREAM","t":"Noise","e":36,"y":0.82,"lo":0.71,"hi":0.93},
{"m":"DREAM","t":"Noise","e":40,"y":0.9,"lo":0.78,"hi":1.02},
{"m":"DREAM","t":"Noise","e":44,"y":0.97,"lo":0.84,"hi":1.1},
{"m":"DREAM","t":"Noise","e":48,"y":1.05,"lo":0.91,"hi":1.19},
{"m":"DREAM","t":"Noise","e":52,"y":1.14,"lo":0.98,"hi":1.3},
{"m":"DREAM","t":"Noise","e":56,"y":1.26,"lo":1.08,"hi":1.44},
{"m":"DREAM","t":"Noise","e":60,"y":1.38,"lo":1.19,"hi":1.57},
{"m":"DREAM","t":"Noise","e":64,"y":1.48,"lo":1.28,"hi":1.68},
{"m":"DREAM","t":"Noise","e":68,"y":1.53,"lo":1.32,"hi":1.74},
{"m":"DREAM","t":"Noise","e":72,"y":1.55,"lo":1.33,"hi":1.77},
{"m":"DREAM","t":"Noise","e":76,"y":1.58,"lo":1.36,"hi":1.8},
{"m":"DREAM","t":"Noise","e":80,"y":1.66,"lo":1.44,"hi":1.88},
{"m":"DREAM","t":"Noise","e":84,"y":1.82,"lo":1.59,"hi":2.05},
{"m":"DREAM","t":"Noise","e":88,"y":1.77,"lo":1.54,"hi":2.0},
{"m":"DREAM","t":"Noise","e":92,"y":1.84,"lo":1.6,"hi":2.08},
{"m":"DREAM","t":"Noise","e":96,"y":1.9,"lo":1.66,"hi":2.14},
{"m":"DREAM","t":"Noise","e":100,"y":1.93,"lo":1.68,"hi":2.18},
{"m":"DREAM","t":"Noise","e":104,"y":1.98,"lo":1.73,"hi":2.23},
{"m":"DREAM","t":"Noise","e":108,"y":2.06,"lo":1.8,"hi":2.32},
{"m":"DREAM","t":"Noise","e":112,"y":2.03,"lo":1.77,"hi":2.29},
{"m":"DREAM","t":"Noise","e":116,"y":2.12,"lo":1.86,"hi":2.38},
{"m":"DREAM","t":"Noise","e":120,"y":2.19,"lo":1.93,"hi":2.45},
{"m":"DREAM","t":"Noise","e":124,"y":2.14,"lo":1.88,"hi":2.4},
{"m":"DREAM","t":"Noise","e":128,"y":2.16,"lo":1.9,"hi":2.42},
{"m":"DREAM","t":"Noise","e":132,"y":2.22,"lo":1.95,"hi":2.49},
{"m":"DREAM","t":"Noise","e":136,"y":2.27,"lo":2.0,"hi":2.54},
{"m":"DREAM","t":"Noise","e":140,"y":2.33,"lo":2.06,"hi":2.6},
{"m":"DREAM","t":"Noise","e":144,"y":2.36,"lo":2.08,"hi":2.64},
{"m":"DREAM","t":"Noise","e":148,"y":2.35,"lo":2.07,"hi":2.63},
{"m":"DREAM","t":"Noise","e":152,"y":2.38,"lo":2.1,"hi":2.66},
{"m":"DREAM","t":"Noise","e":156,"y":2.37,"lo":2.09,"hi":2.65},
{"m":"DREAM","t":"Noise","e":160,"y":2.42,"lo":2.14,"hi":2.7},
{"m":"DREAM","t":"Noise","e":164,"y":2.39,"lo":2.11,"hi":2.67},
{"m":"DREAM","t":"Noise","e":168,"y":2.47,"lo":2.18,"hi":2.76},
{"m":"DREAM","t":"Noise","e":172,"y":2.5,"lo":2.21,"hi":2.79},
{"m":"DREAM","t":"Noise","e":176,"y":2.53,"lo":2.24,"hi":2.82},
{"m":"DREAM","t":"Noise","e":180,"y":2.5,"lo":2.21,"hi":2.79},
{"m":"DREAM","t":"Noise","e":184,"y":2.56,"lo":2.27,"hi":2.85},
{"m":"DREAM","t":"Noise","e":188,"y":2.63,"lo":2.34,"hi":2.92},
{"m":"DREAM","t":"Noise","e":192,"y":2.67,"lo":2.38,"hi":2.96},
{"m":"DREAM","t":"Noise","e":196,"y":2.63,"lo":2.34,"hi":2.92},
{"m":"DREAM","t":"Noise","e":200,"y":2.64,"lo":2.35,"hi":2.93},
{"m":"DREAM","t":"Noise","e":204,"y":2.6,"lo":2.31,"hi":2.89},
{"m":"DREAM","t":"Noise","e":208,"y":2.66,"lo":2.37,"hi":2.95},
{"m":"DREAM","t":"Noise","e":212,"y":2.72,"lo":2.43,"hi":3.01},
{"m":"DREAM","t":"Noise","e":216,"y":2.76,"lo":2.47,"hi":3.05},
{"m":"DREAM","t":"Noise","e":220,"y":2.83,"lo":2.54,"hi":3.12},
{"m":"DREAM","t":"Noise","e":224,"y":2.8,"lo":2.51,"hi":3.09},
{"m":"DREAM","t":"Noise","e":228,"y":2.77,"lo":2.48,"hi":3.06},
{"m":"DREAM","t":"Noise","e":232,"y":2.86,"lo":2.57,"hi":3.15},
{"m":"DREAM","t":"Noise","e":236,"y":2.84,"lo":2.55,"hi":3.13},
{"m":"DREAM","t":"Noise","e":240,"y":2.8,"lo":2.51,"hi":3.09},
{"m":"DREAM","t":"Noise","e":244,"y":2.83,"lo":2.54,"hi":3.12},
{"m":"DREAM","t":"Noise","e":248,"y":2.87,"lo":2.58,"hi":3.16},
{"m":"DREAM","t":"Noise","e":252,"y":2.91,"lo":2.62,"hi":3.2},
{"m":"DREAM","t":"Noise","e":256,"y":2.88,"lo":2.59,"hi":3.17},
{"m":"DREAM","t":"Noise","e":260,"y":2.92,"lo":2.63,"hi":3.21},
{"m":"DREAM","t":"Noise","e":264,"y":2.97,"lo":2.68,"hi":3.26},
{"m":"DREAM","t":"Noise","e":268,"y":3.02,"lo":2.73,"hi":3.31},
{"m":"DREAM","t":"Noise","e":272,"y":2.98,"lo":2.69,"hi":3.27},
{"m":"DREAM","t":"Noise","e":276,"y":3.0,"lo":2.71,"hi":3.29},
{"m":"DREAM","t":"Noise","e":280,"y":2.97,"lo":2.68,"hi":3.26},
{"m":"DREAM","t":"Noise","e":284,"y":3.04,"lo":2.75,"hi":3.33},
{"m":"DREAM","t":"Noise","e":288,"y":3.07,"lo":2.78,"hi":3.36},
{"m":"DREAM","t":"Noise","e":292,"y":3.12,"lo":2.83,"hi":3.41},
{"m":"DREAM","t":"Noise","e":296,"y":3.18,"lo":2.89,"hi":3.45},
{"m":"DREAM","t":"Noise","e":300,"y":3.12,"lo":2.92,"hi":3.32}
]},
"layer": [
  {
    "mark": {"type": "area", "opacity": 0.2, "clip": true},
    "encoding": {
      "x": {"field": "e", "type": "quantitative", "scale": {"domain": [-15, 313], "nice": false, "zero": false},
        "axis": {"title": "Epoch", "values": [0, 50, 100, 150, 200, 250, 300], "labelPadding": 9, "titlePadding": 5}},
      "y": {"field": "lo", "type": "quantitative", "scale": {"domain": [-0.155, 3.544], "nice": false, "zero": false},
        "axis": {"title": "Loss", "values": [0, 0.5, 1, 1.5, 2, 2.5, 3, 3.5], "format": ".1f", "labelPadding": 11, "titlePadding": 9}},
      "y2": {"field": "hi"},
      "fill": {"field": "m", "type": "nominal", "scale": {"domain": ["Vanilla", "CTW", "DREAM"], "range": ["#B5173A", "#3F84D0", "#5A9E2A"]}, "legend": null},
      "detail": {"field": "t"}
    }
  },
  {
    "mark": {"type": "line", "strokeWidth": 2.4, "clip": true},
    "encoding": {
      "x": {"field": "e", "type": "quantitative"},
      "y": {"field": "y", "type": "quantitative"},
      "stroke": {"field": "m", "type": "nominal",
        "scale": {"domain": ["Method", "Vanilla", "CTW", "DREAM", "Type", "Clean", "Noise"],
                  "range": ["transparent", "#B5173A", "#3F84D0", "#5A9E2A", "transparent", "#333333", "#333333"]},
        "legend": {"title": null, "orient": "top-left", "offset": 9, "symbolType": "M-1,0H2.5", "symbolSize": 400,
          "symbolStrokeWidth": 1.5, "labelOffset": 23, "labelFont": "Liberation Serif", "labelFontWeight": "bold",
          "labelFontSize": 20, "labelColor": "#262626", "padding": 6, "rowPadding": 4.6,
          "fillColor": "rgba(234,234,242,0.8)", "strokeColor": "#CCCCCC", "cornerRadius": 4,
          "encode": {"symbols": {"update": {"strokeDash": {"signal": "datum.value === 'Noise' ? [3, 2.5] : [1, 0]"}}}}}},
      "strokeDash": {"field": "t", "type": "nominal", "scale": {"domain": ["Clean", "Noise"], "range": [[1, 0], [3.5, 3.5]]}, "legend": null}
    }
  }
]
}
